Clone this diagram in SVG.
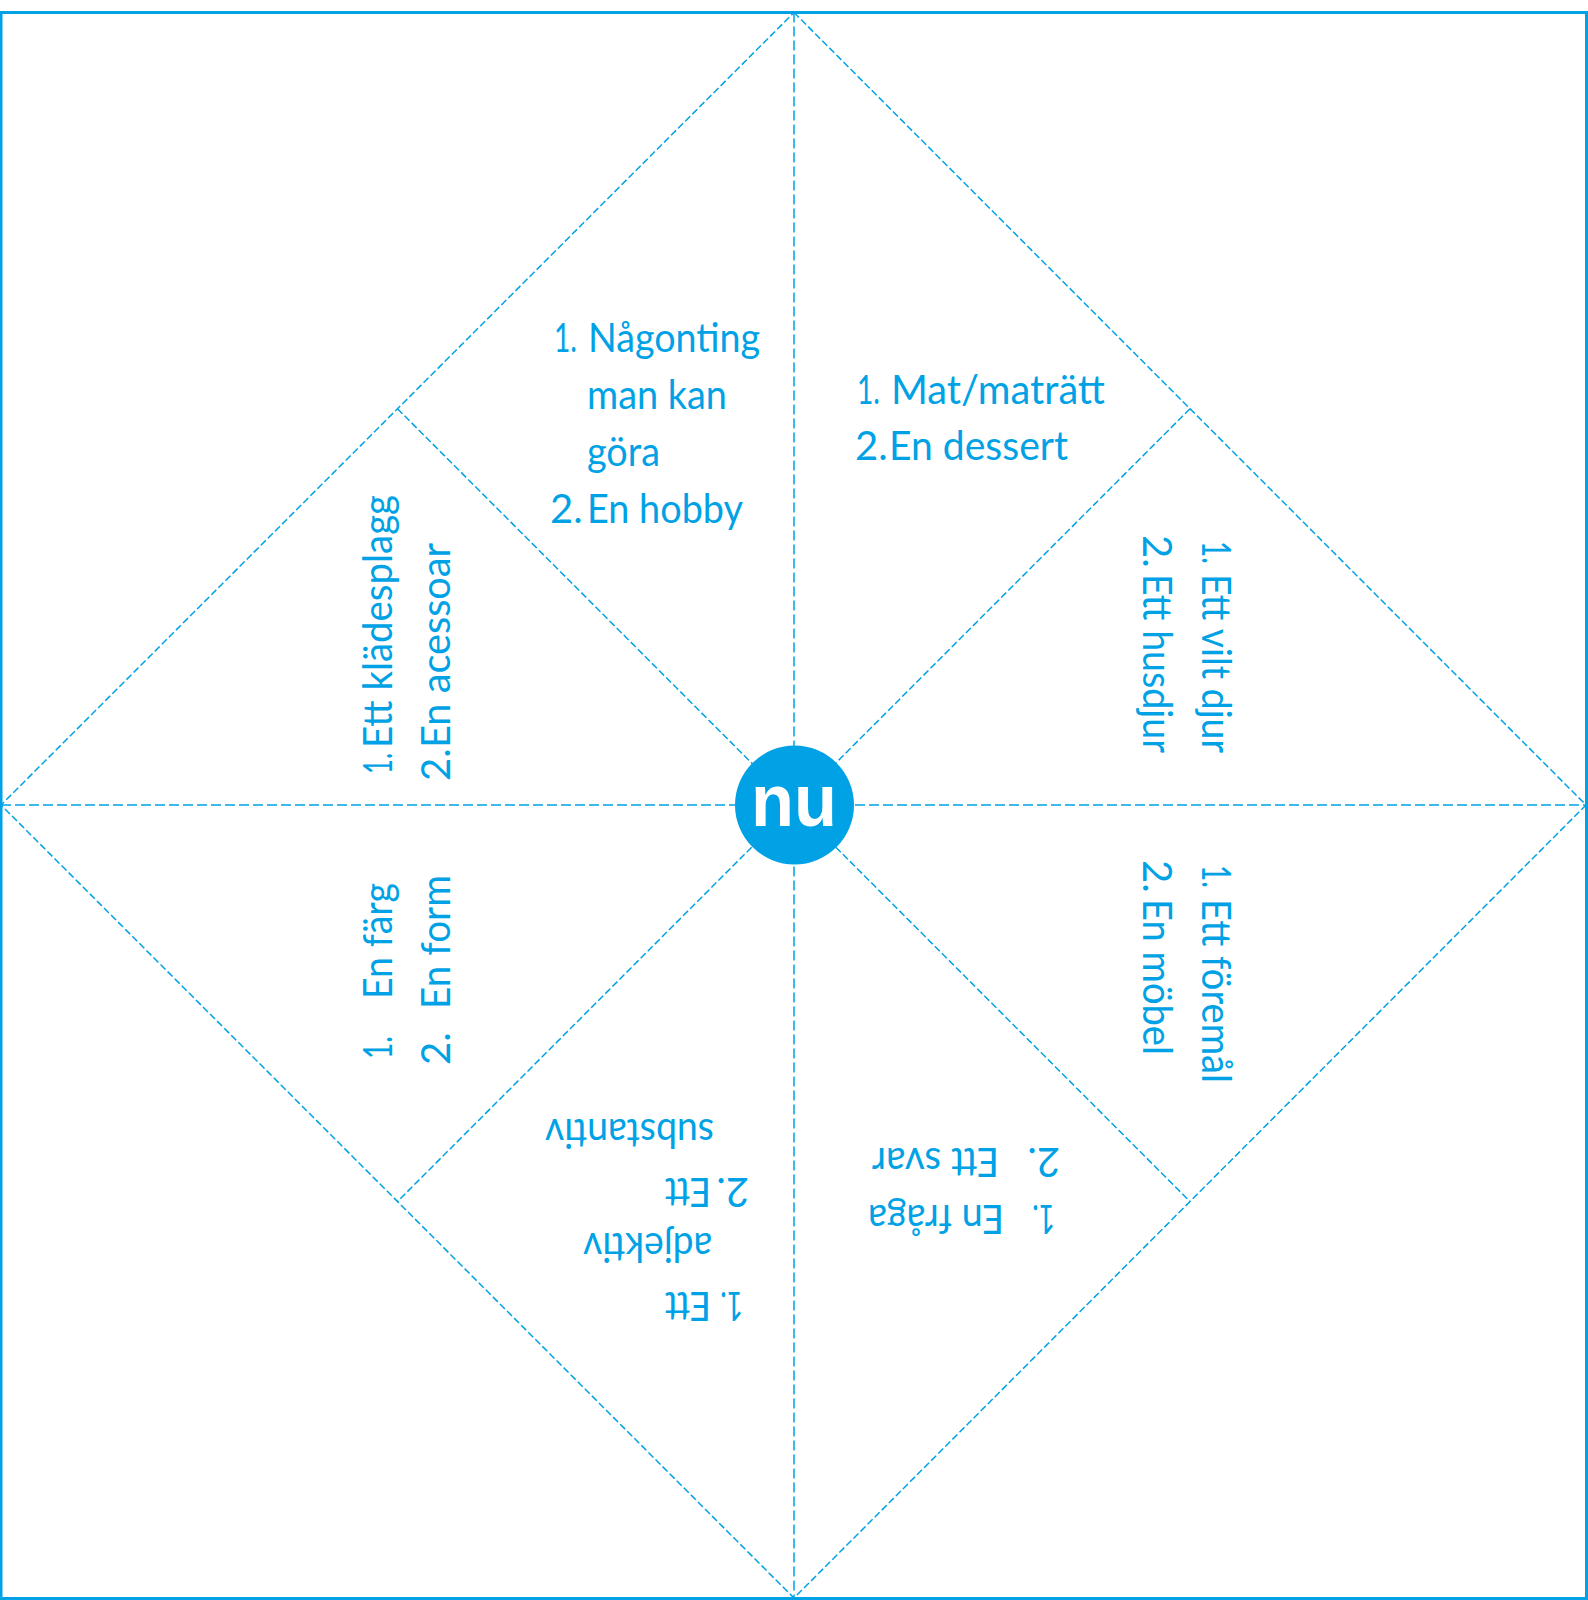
<svg xmlns="http://www.w3.org/2000/svg" width="1588" height="1600" viewBox="0 0 1588 1600">
<style>
.frame{fill:none;stroke:#00a2e5;stroke-width:3}
.fold{fill:none;stroke:#00a2e5;stroke-width:1.5}
.st{stroke-dasharray:10 4}
.dg{stroke-dasharray:7 3}
.t{font-family:Lato,"Open Sans","Liberation Sans",sans-serif;font-size:40px;fill:#00a2e5}
.nu{font-family:"Liberation Sans",Arial,sans-serif;font-weight:bold;font-size:75px;fill:#ffffff}
</style>
<rect width="1588" height="1600" fill="#ffffff"/>
<rect class="frame" x="1" y="12.5" width="1585.5" height="1586"/>
<g id="connectors">
<path class="fold dg" d="M794,12.5 L1586,805 L794,1598 L1,805 Z"/>
<path class="fold st" d="M794,12.5 V1598"/>
<path class="fold st" d="M1,805 H1586"/>
<path class="fold dg" d="M397.5,408.75 L1190,1201.5"/>
<path class="fold dg" d="M1190,408.75 L397.5,1201.5"/>
</g>
<g id="center">
<circle cx="794.5" cy="805" r="59.5" fill="#00a2e5"/>
<text class="nu" x="751" y="826" textLength="86" lengthAdjust="spacingAndGlyphs">nu</text>
</g>
<g id="panel-top-left">
<text class="t" x="554" y="352" textLength="23" lengthAdjust="spacingAndGlyphs">1.</text>
<text class="t" x="588" y="352" textLength="172" lengthAdjust="spacingAndGlyphs">Någonting</text>
<text class="t" x="587" y="409" textLength="140" lengthAdjust="spacingAndGlyphs">man kan</text>
<text class="t" x="587" y="466" textLength="73" lengthAdjust="spacingAndGlyphs">göra</text>
<text class="t" x="550" y="523">2.</text>
<text class="t" x="587" y="523" textLength="156" lengthAdjust="spacingAndGlyphs">En hobby</text>
</g>
<g id="panel-top-right">
<text class="t" x="857" y="404" textLength="23" lengthAdjust="spacingAndGlyphs">1.</text>
<text class="t" x="891" y="404" textLength="214" lengthAdjust="spacingAndGlyphs">Mat/maträtt</text>
<text class="t" x="855" y="460">2.</text>
<text class="t" x="889" y="460" textLength="179" lengthAdjust="spacingAndGlyphs">En dessert</text>
</g>
<g id="panel-right-top">
<text class="t" transform="translate(1202,541) rotate(90)" textLength="23" lengthAdjust="spacingAndGlyphs">1.</text>
<text class="t" transform="translate(1202,574) rotate(90)" textLength="179" lengthAdjust="spacingAndGlyphs">Ett vilt djur</text>
<text class="t" transform="translate(1143,535) rotate(90)">2.</text>
<text class="t" transform="translate(1143,574) rotate(90)" textLength="179" lengthAdjust="spacingAndGlyphs">Ett husdjur</text>
</g>
<g id="panel-right-bottom">
<text class="t" transform="translate(1202,865) rotate(90)" textLength="23" lengthAdjust="spacingAndGlyphs">1.</text>
<text class="t" transform="translate(1202,899) rotate(90)" textLength="184" lengthAdjust="spacingAndGlyphs">Ett föremål</text>
<text class="t" transform="translate(1143,860) rotate(90)">2.</text>
<text class="t" transform="translate(1143,899) rotate(90)" textLength="156" lengthAdjust="spacingAndGlyphs">En möbel</text>
</g>
<g id="panel-left-top">
<text class="t" transform="translate(392,774) rotate(-90)" textLength="21" lengthAdjust="spacingAndGlyphs">1.</text>
<text class="t" transform="translate(392,748) rotate(-90)" textLength="253" lengthAdjust="spacingAndGlyphs">Ett klädesplagg</text>
<text class="t" transform="translate(450,781) rotate(-90)">2.</text>
<text class="t" transform="translate(450,748) rotate(-90)" textLength="205" lengthAdjust="spacingAndGlyphs">En acessoar</text>
</g>
<g id="panel-left-bottom">
<text class="t" transform="translate(392,1059) rotate(-90)" textLength="23" lengthAdjust="spacingAndGlyphs">1.</text>
<text class="t" transform="translate(392,999) rotate(-90)" textLength="116" lengthAdjust="spacingAndGlyphs">En färg</text>
<text class="t" transform="translate(450,1065) rotate(-90)">2.</text>
<text class="t" transform="translate(450,1009) rotate(-90)" textLength="134" lengthAdjust="spacingAndGlyphs">En form</text>
</g>
<g id="panel-bottom-right">
<text class="t" transform="translate(1055,1205) rotate(180)" textLength="23" lengthAdjust="spacingAndGlyphs">1.</text>
<text class="t" transform="translate(1004,1205) rotate(180)" textLength="136" lengthAdjust="spacingAndGlyphs">En fråga</text>
<text class="t" transform="translate(1060,1148) rotate(180)">2.</text>
<text class="t" transform="translate(999,1148) rotate(180)" textLength="127" lengthAdjust="spacingAndGlyphs">Ett svar</text>
</g>
<g id="panel-bottom-left">
<text class="t" transform="translate(743,1292) rotate(180)" textLength="23" lengthAdjust="spacingAndGlyphs">1.</text>
<text class="t" transform="translate(711,1292) rotate(180)" textLength="46" lengthAdjust="spacingAndGlyphs">Ett</text>
<text class="t" transform="translate(712,1233) rotate(180)" textLength="129" lengthAdjust="spacingAndGlyphs">adjektiv</text>
<text class="t" transform="translate(749,1178) rotate(180)">2.</text>
<text class="t" transform="translate(711,1178) rotate(180)" textLength="46" lengthAdjust="spacingAndGlyphs">Ett</text>
<text class="t" transform="translate(714,1119) rotate(180)" textLength="169" lengthAdjust="spacingAndGlyphs">substantiv</text>
</g>
</svg>
